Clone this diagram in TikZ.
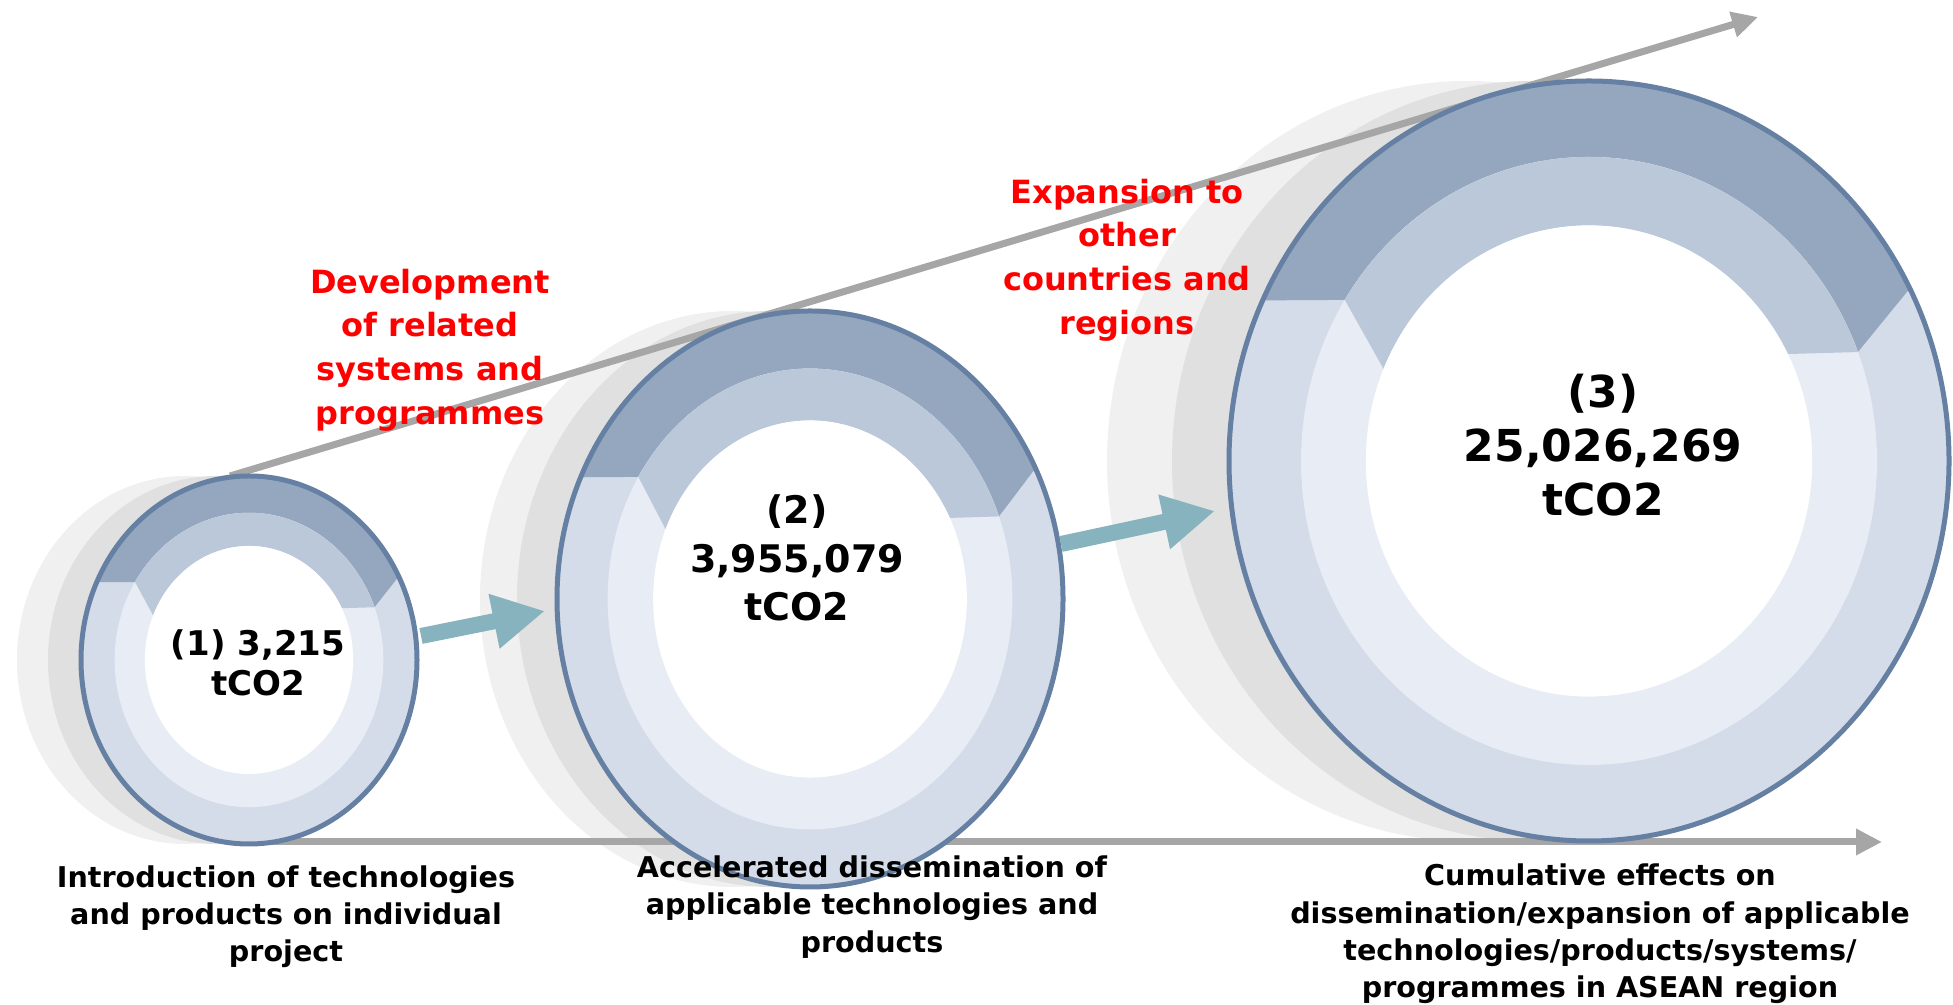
\documentclass[tikz,border=0pt]{standalone}
\usepackage{fontspec}
\setmainfont{DejaVu Sans}
\usetikzlibrary{positioning}
\usetikzlibrary{arrows.meta}

\definecolor{axisgray}{HTML}{A6A6A6}
\definecolor{flowteal}{HTML}{86B3BE}
\definecolor{shadowlight}{HTML}{F0F0F0}
\definecolor{shadowdark}{HTML}{E0E0E0}
\definecolor{ringborder}{HTML}{6580A2}
\definecolor{ringdark}{HTML}{95A7BF}
\definecolor{ringmid}{HTML}{BAC8DA}
\definecolor{ringlight}{HTML}{D3DCE8}
\definecolor{ringpale}{HTML}{E8ECF4}
\definecolor{textred}{HTML}{FF0000}

\tikzset{
  arrow_axis/.style={-{Triangle[length=13pt, width=12.5pt]}, line width=3.5pt, color=axisgray},
  arrow_flow/.style={-{Triangle[length=26pt, width=26pt]}, line width=8pt, color=flowteal},
  value_big/.style={align=center, font=\bfseries\fontsize{22}{27}\selectfont},
  value_mid/.style={align=center, font=\bfseries\fontsize{19}{24.3}\selectfont},
  value_small/.style={align=center, font=\bfseries\fontsize{17}{20}\selectfont},
  label_red/.style={align=center, text=textred, font=\bfseries\fontsize{16}{21.8}\selectfont},
  label_stage/.style={align=center, font=\bfseries\fontsize{14.3}{18.6}\selectfont}
}

%% shadow: centre x, centre y, x radius, y radius, light shift, dark shift
\newcommand{\drawshadow}[6]{%
  \fill[shadowlight] (#1-#5,#2) ellipse [x radius=#3, y radius=#4];
  \fill[shadowdark] (#1-#6,#2) ellipse [x radius=#3, y radius=#4];}

%% ring: centre x, centre y, x radius, y radius
\newcommand{\drawring}[4]{%
  \begin{scope}[shift={(#1,#2)}, xscale=#3, yscale=#4]
    \fill[ringlight] (0,0) circle [radius=1];
    \fill[ringdark] (27:1) arc[start angle=27, end angle=155, radius=1]
      -- (148:0.8) arc[start angle=148, end angle=21, radius=0.8] -- cycle;
    \fill[ringpale] (0,0) circle [radius=0.8];
    \fill[ringmid] (21:0.8) arc[start angle=21, end angle=148, radius=0.8]
      -- (157:0.62) arc[start angle=157, end angle=27, radius=0.62] -- cycle;
    \fill[white] (0,0) circle [radius=0.62];
    \draw[ringborder, line width=2.5pt] (0,0) circle [radius=1];
  \end{scope}}

\begin{document}
\begin{tikzpicture}[x=0.5pt, y=0.5pt]
\useasboundingbox (0,0) rectangle (1953,1005);

%% Shadows
\drawshadow{249}{345}{168}{184}{64}{33}
\drawshadow{810}{406}{253}{288}{77}{40}
\drawshadow{1589}{544}{360}{380}{122}{57}

%% Axes
\coordinate (top_start) at (230,529);
\coordinate (top_end)   at (1758,988);
\coordinate (bot_start) at (249,163);
\coordinate (bot_end)   at (1882,163);
\draw[arrow_axis] (top_start) -- (top_end);
\draw[arrow_axis] (bot_start) -- (bot_end);

%% Rings
\drawring{249}{345}{168}{184}
\drawring{810}{406}{253}{288}
\drawring{1589}{544}{360}{380}

\node[value_small] at (258,342) (val1) {(1) 3,215\\tCO2};
\node[value_mid]   at (797,447) (val2) {(2)\\3,955,079\\tCO2};
\node[value_big]   at (1603,560) (val3) {(3)\\25,026,269\\tCO2};

%% Flow arrows
\coordinate (flow1_s) at (421,369);
\coordinate (flow1_e) at (545,394);
\coordinate (flow2_s) at (1061,461);
\coordinate (flow2_e) at (1215,494);
\draw[arrow_flow] (flow1_s) -- (flow1_e);
\draw[arrow_flow] (flow2_s) -- (flow2_e);

%% Labels
\node[label_red] at (430,655) (dev) {Development\\of related\\systems and\\programmes};
\node[label_red] at (1127,745) (exp) {Expansion to\\other\\countries and\\regions};

\node[label_stage] at (286,88)  (stage1) {Introduction of technologies\\and products on individual\\project};
\node[label_stage] at (872,98) (stage2) {Accelerated dissemination of\\applicable technologies and\\products};
\node[label_stage] at (1600,71) (stage3) {Cumulative effects on\\dissemination/expansion of applicable\\technologies/products/systems/\\programmes in ASEAN region};

\end{tikzpicture}
\end{document}
